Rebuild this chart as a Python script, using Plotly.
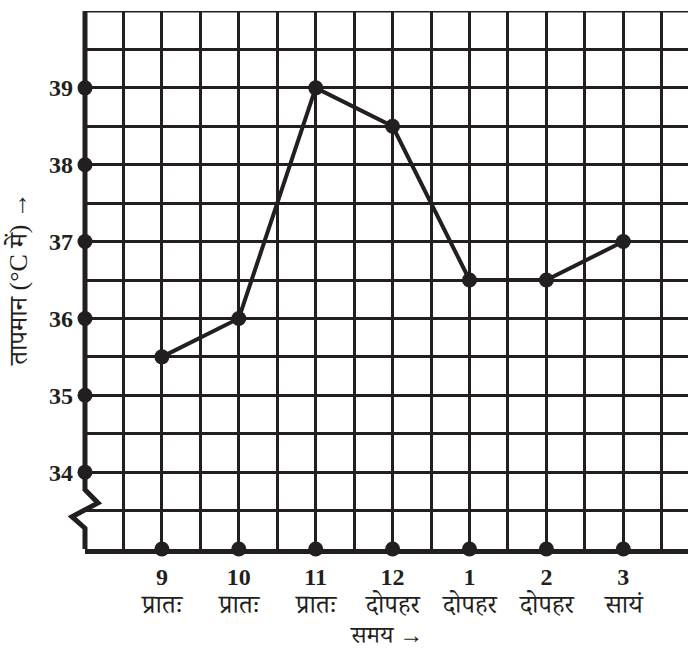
import plotly.graph_objects as go

# Data
hours = [9, 10, 11, 12, 13, 14, 15]
temps = [35.5, 36, 39, 38.5, 36.5, 36.5, 37]
hour_labels = ["9", "10", "11", "12", "1", "2", "3"]
period_labels = ["प्रातः", "प्रातः", "प्रातः", "दोपहर", "दोपहर", "दोपहर", "सायं"]
y_ticks = [34, 35, 36, 37, 38, 39]

X0, X1 = 8, 8 + 603 / 76.9
Y0, Y1 = 33, 40
PH = 538  # plot height in px
PW = 603  # plot width in px

serif = "Liberation Serif, Times New Roman, serif"
deva = "Liberation Serif, Noto Serif Devanagari, Noto Sans Devanagari, Lohit Devanagari, serif"
ink = "#231f20"

fig = go.Figure()

# tick dots on axes
fig.add_trace(go.Scatter(x=[X0] * len(y_ticks), y=y_ticks, mode="markers",
                         marker=dict(size=15, color=ink), cliponaxis=False,
                         hoverinfo="skip", showlegend=False))
fig.add_trace(go.Scatter(x=hours, y=[Y0] * len(hours), mode="markers",
                         marker=dict(size=15, color=ink), cliponaxis=False,
                         hoverinfo="skip", showlegend=False))
# data line
fig.add_trace(go.Scatter(x=hours, y=temps, mode="lines+markers",
                         line=dict(color=ink, width=4),
                         marker=dict(size=15, color=ink), cliponaxis=False,
                         showlegend=False))

# left axis with break (zigzag)
px = 1 / PW
brk = [(0, Y1), (0, 33.77), (13 * px, 33.6), (-13 * px, 33.42), (0, 33.27), (0, Y0)]
path = "M " + " L ".join(f"{a},{b}" for a, b in brk)
fig.add_shape(type="path", path=path, xref="paper", yref="y",
              line=dict(color=ink, width=5), layer="above")

# top grid line
fig.add_shape(type="line", xref="paper", yref="y", x0=0, x1=1, y0=Y1, y1=Y1,
              line=dict(color=ink, width=3))

# period labels below hour numbers
for h, p in zip(hours, period_labels):
    fig.add_annotation(x=h, xref="x", y=-55 / PH, yref="paper", text=p,
                       showarrow=False, yanchor="middle",
                       font=dict(family=deva, size=26, color=ink))

# axis titles
fig.add_annotation(x=0.5, xref="paper", y=-86 / PH, yref="paper", text="समय →",
                   showarrow=False, yanchor="middle", borderpad=0,
                   font=dict(family=deva, size=24, color=ink))
fig.add_annotation(x=-67 / PW, xref="paper", y=0.5, yref="paper",
                   text="तापमान (°C में) →", textangle=-90,
                   showarrow=False, xanchor="center", yanchor="middle",
                   font=dict(family=deva, size=26, color=ink))

fig.update_layout(
    width=688, height=650,
    margin=dict(l=85, r=0, t=11, b=101),
    plot_bgcolor="white", paper_bgcolor="white",
    xaxis=dict(range=[X0, X1], tickmode="array", tickvals=hours,
               ticktext=[f"<b>{h}</b>" for h in hour_labels],
               tickfont=dict(family=serif, size=24, color=ink),
               showgrid=False, zeroline=False, automargin=False,
               showline=True, linecolor=ink, linewidth=5,
               ticks="", ticklabelstandoff=2,
               minor=dict(dtick=0.5, tick0=8, showgrid=True, gridcolor=ink, gridwidth=2.5)),
    yaxis=dict(range=[Y0, Y1], tickmode="array", tickvals=y_ticks,
               ticktext=[f"<b>{v}</b>" for v in y_ticks],
               tickfont=dict(family=serif, size=24, color=ink),
               showgrid=False, zeroline=False, showline=False, automargin=False,
               ticks="", ticklabelstandoff=11,
               minor=dict(dtick=0.5, tick0=33, showgrid=True, gridcolor=ink, gridwidth=2.5)),
)

fig.write_html("out.html", config={"displayModeBar": False},
               post_script="document.body.style.margin='0';document.body.style.overflow='hidden';")
